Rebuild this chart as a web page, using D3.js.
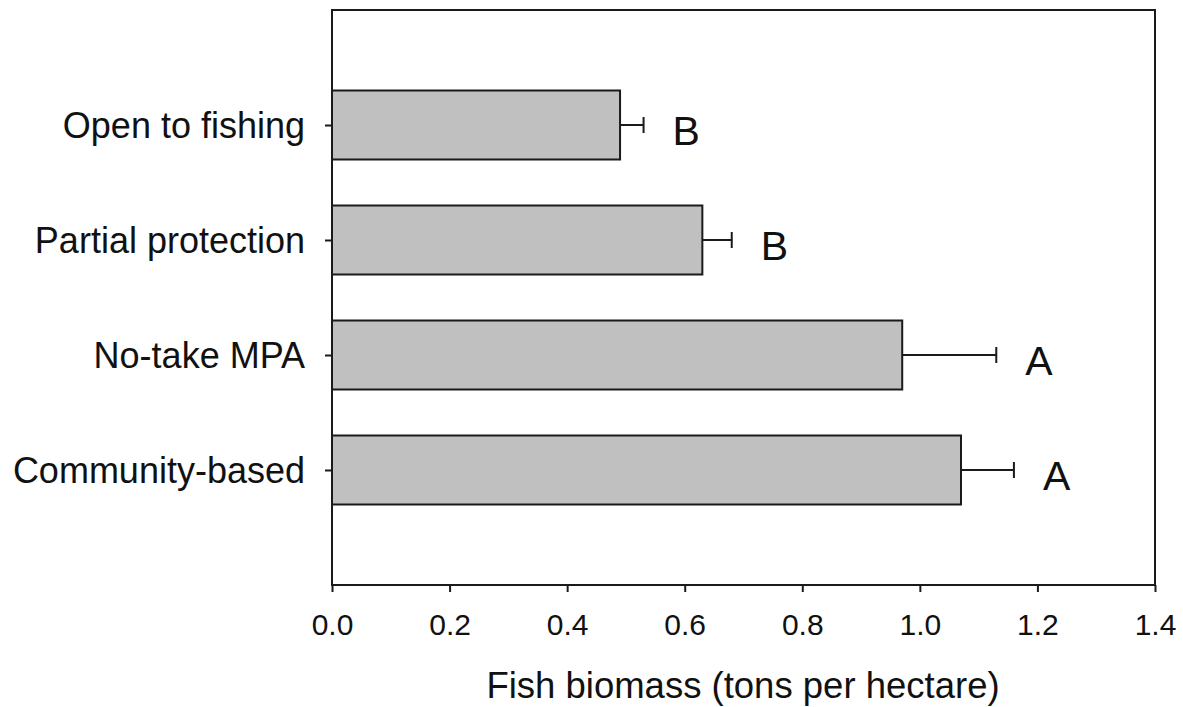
<!DOCTYPE html>
<html>
<head>
<meta charset="utf-8">
<script src="https://cdn.jsdelivr.net/npm/d3@7"></script>
<style>
  body { margin: 0; background: #fff; }
  svg text { font-family: "Liberation Sans", Arial, sans-serif; fill: #111; }
</style>
</head>
<body>
<div id="chart"></div>
<script>
// data
var categories = ["Open to fishing", "Partial protection", "No-take MPA", "Community-based"];
var biomass = [0.49, 0.63, 0.97, 1.07];
var stdErr = [0.04, 0.05, 0.16, 0.09];
var groupLetters = ["B", "B", "A", "A"];
var xTicks = [0, 0.2, 0.4, 0.6, 0.8, 1.0, 1.2, 1.4];

var W = 1183, H = 707;
var margin = {top: 10, right: 28, bottom: 122, left: 332};
var width = W - margin.left - margin.right;
var height = H - margin.top - margin.bottom;
var ink = "#1a1a1a";

var rows = categories.map(function (c, i) {
    return {name: c, value: biomass[i], err: stdErr[i], letter: groupLetters[i]};
});

var svg = d3.select("#chart")
    .append("svg")
    .attr("width", W)
    .attr("height", H)
    .append("g")
    .attr("transform", "translate(" + margin.left + "," + margin.top + ")");

var x = d3.scaleLinear().domain([0, 1.4]).range([0, width]);

// four categories on five equal steps, like the original
var y = d3.scalePoint().domain(categories).range([0, height]).padding(1);
var barH = y.step() * 0.6;

// bars
svg.selectAll("rect.bar")
    .data(rows)
    .enter()
    .append("rect")
    .attr("class", "bar")
    .attr("x", x(0))
    .attr("y", function (d) { return y(d.name) - barH / 2; })
    .attr("width", function (d) { return x(d.value) - x(0); })
    .attr("height", barH)
    .style("fill", "#c0c0c0")
    .style("stroke", ink)
    .style("stroke-width", 2);

// error bars (one sided)
var eb = svg.selectAll("g.err")
    .data(rows)
    .enter()
    .append("g")
    .attr("class", "err")
    .style("stroke", ink)
    .style("stroke-width", 2);
eb.append("line")
    .attr("x1", function (d) { return x(d.value); })
    .attr("x2", function (d) { return x(d.value + d.err); })
    .attr("y1", function (d) { return y(d.name); })
    .attr("y2", function (d) { return y(d.name); });
eb.append("line")
    .attr("x1", function (d) { return x(d.value + d.err); })
    .attr("x2", function (d) { return x(d.value + d.err); })
    .attr("y1", function (d) { return y(d.name) - 8; })
    .attr("y2", function (d) { return y(d.name) + 8; });

// significance letters
svg.selectAll("text.letter")
    .data(rows)
    .enter()
    .append("text")
    .attr("class", "letter")
    .attr("x", function (d) { return x(d.value + d.err) + 29; })
    .attr("y", function (d) { return y(d.name) + 20; })
    .style("font-size", "41px")
    .text(function (d) { return d.letter; });

// x axis
var xAxis = svg.append("g")
    .attr("transform", "translate(0," + height + ")")
    .call(d3.axisBottom(x).tickValues(xTicks).tickFormat(d3.format(".1f"))
        .tickSizeInner(7).tickSizeOuter(0).tickPadding(22));
xAxis.selectAll("text").style("font-size", "30px");

// y axis
var yAxis = svg.append("g")
    .call(d3.axisLeft(y).tickSizeInner(7).tickSizeOuter(0).tickPadding(20));
yAxis.selectAll("text").style("font-size", "36px").attr("dy", "0.35em");

svg.selectAll(".domain").remove();
svg.selectAll(".tick line").style("stroke", ink).style("stroke-width", 2);

// frame
svg.append("rect")
    .attr("x", 0)
    .attr("y", 0)
    .attr("width", width)
    .attr("height", height)
    .style("fill", "none")
    .style("stroke", ink)
    .style("stroke-width", 2);

// axis title
svg.append("text")
    .attr("x", 411)
    .attr("y", height + 113)
    .attr("text-anchor", "middle")
    .style("font-size", "36.5px")
    .text("Fish biomass (tons per hectare)");
</script>
</body>
</html>
